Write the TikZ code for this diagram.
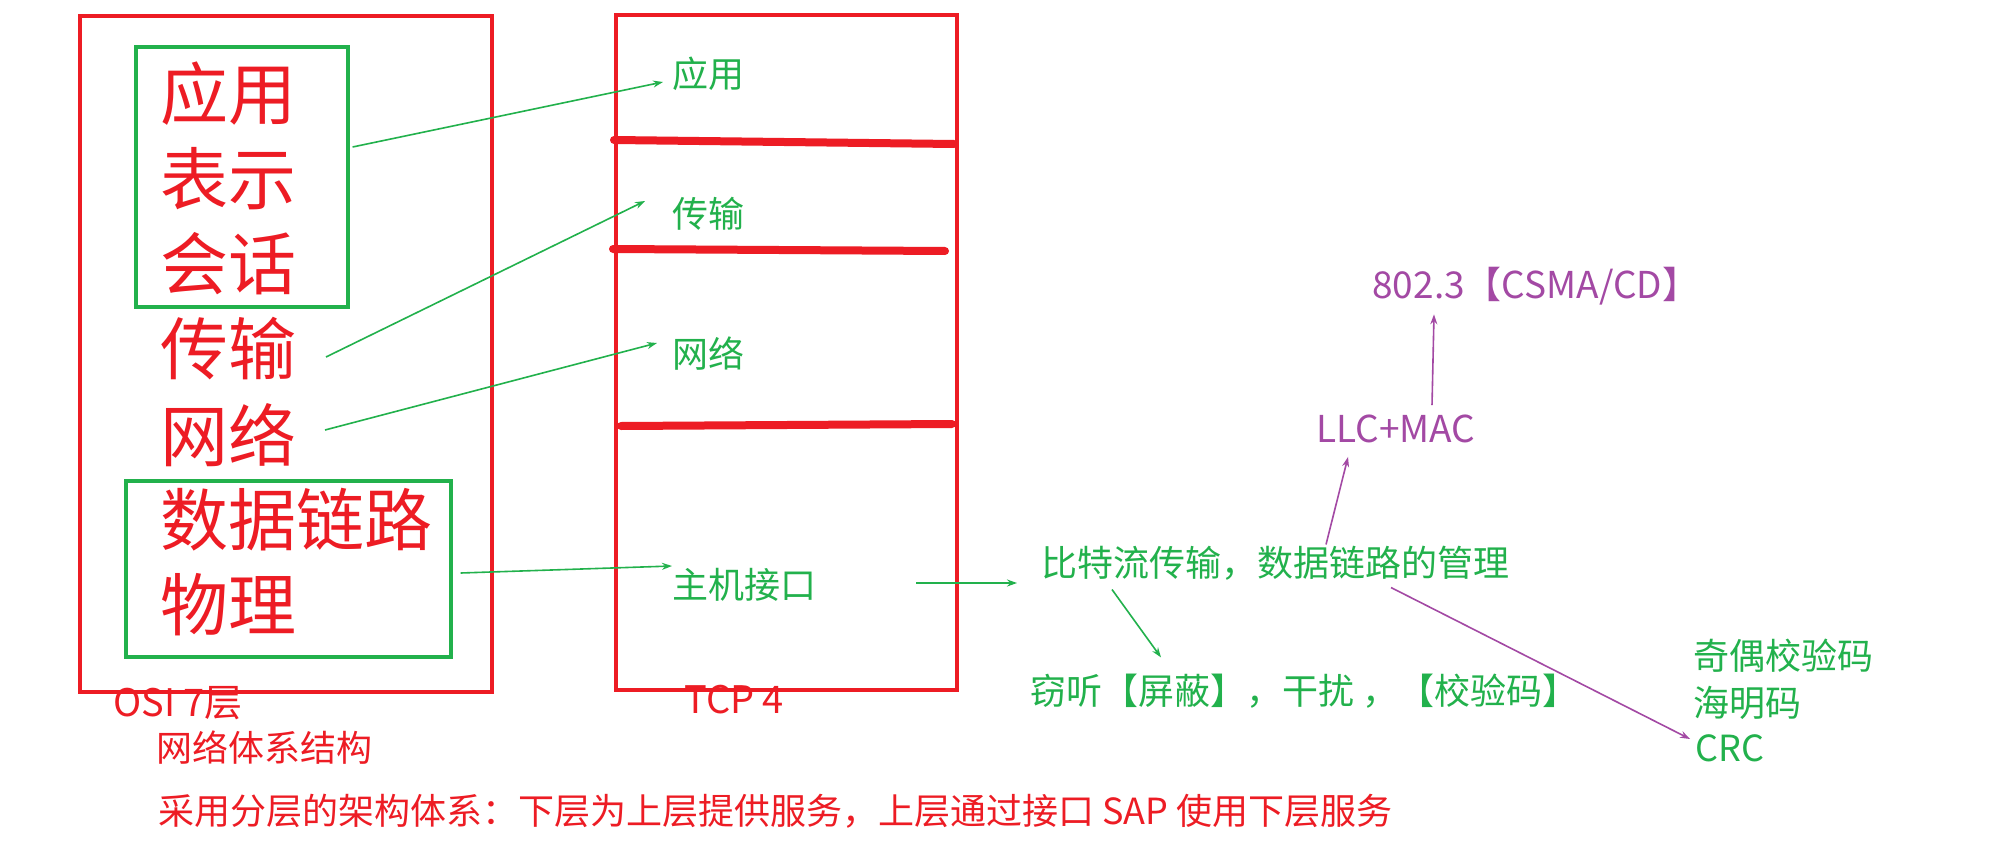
\documentclass[tikz,border=0pt]{standalone}
\usepackage{fontspec}
\newfontfamily\cjk{Noto Sans CJK SC}
\usetikzlibrary{arrows.meta,fit}
\definecolor{pred}{RGB}{237,28,36}
\definecolor{pgreen}{RGB}{34,177,76}
\definecolor{ppurple}{RGB}{163,73,164}
\begin{document}
\begin{tikzpicture}[x=0.5pt,y=-0.5pt,
  frame/.style={draw, line width=1.6pt, inner sep=0pt, anchor=center},
  big/.style={text=pred, font=\cjk\fontsize{34pt}{34pt}\selectfont, inner sep=0pt, anchor=west},
  gtxt/.style={text=pgreen, font=\cjk\fontsize{18pt}{18pt}\selectfont, inner sep=0pt, anchor=west},
  ptxt/.style={text=ppurple, font=\cjk\fontsize{18.5pt}{18.5pt}\selectfont, inner sep=0pt, anchor=west},
  rtxt/.style={text=pred, font=\cjk\fontsize{19pt}{19pt}\selectfont, inner sep=0pt, anchor=west},
  rsmall/.style={text=pred, font=\cjk\fontsize{18pt}{18pt}\selectfont, inner sep=0pt, anchor=west},
  bar/.style={draw=pred, line width=4pt, line cap=round},
  arrg/.style={draw=pgreen, line width=0.8pt, -{Stealth[length=5pt,width=3.5pt]}},
  arrp/.style={draw=ppurple, line width=0.8pt, -{Stealth[length=5pt,width=3.5pt]}}
]
\fill[white] (0,0) rectangle (2005,861);
\useasboundingbox (0,0) rectangle (2005,861);

% frames
\coordinate (o1) at (80,16);  \coordinate (o2) at (492,692);
\node[frame, draw=pred, fit=(o1)(o2)] (osi) {};
\coordinate (t1) at (616,15); \coordinate (t2) at (957,690);
\node[frame, draw=pred, fit=(t1)(t2)] (tcp) {};
\coordinate (a1) at (136,47); \coordinate (a2) at (348,307);
\node[frame, draw=pgreen, fit=(a1)(a2)] (g1) {};
\coordinate (b1) at (126,481); \coordinate (b2) at (451,657);
\node[frame, draw=pgreen, fit=(b1)(b2)] (g2) {};

% OSI layers
\node[big] (r1) at (160,94) {应用};
\node[big] (r2) at (160,179) {表示};
\node[big] (r3) at (160,264) {会话};
\node[big] (r4) at (160,349) {传输};
\node[big] (r5) at (160,435) {网络};
\node[big] (r6) at (160,520) {数据链路};
\node[big] (r7) at (160,605) {物理};

% TCP layers
\node[gtxt] (ta) at (672,73.5) {应用};
\node[gtxt] (tb) at (672,213.5) {传输};
\node[gtxt] (tc) at (672,353.5) {网络};
\node[gtxt] (td) at (672,585) {主机接口};
\draw[bar] (614,140) -- (954,144);
\draw[bar] (613,249) -- (945,251);
\draw[bar] (621,426) -- (952,424);

% right side
\node[gtxt] (bt) at (1041,563) {比特流传输，数据链路的管理};
\node[ptxt] (llc) at (1316,428.5) {LLC+MAC};
\node[ptxt] (ieee) at (1372,286) {802.3【CSMA/CD】};
\node[gtxt] (qt) at (1030,691) {窃听【屏蔽】，干扰 ，【校验码】};
\node[gtxt] (jo) at (1693,656) {奇偶校验码};
\node[gtxt] (hm) at (1693,702.5) {海明码};
\node[gtxt] (crc) at (1695,748.5) {CRC};

% bottom labels
\node[rtxt] (osil) at (113,703) {OSI 7层};
\node[rtxt] (tcpl) at (684,700) {TCP 4};
\node[rsmall] (arch) at (156,748) {网络体系结构};
\node[rsmall] (desc) at (158,811) {采用分层的架构体系：下层为上层提供服务，上层通过接口 SAP 使用下层服务};

% arrows
\draw[arrg] ([shift={(3,-30)}]g1.east) -- ([shift={(-9,8.5)}]ta.west);
\draw[arrg] ([shift={(166,8)}]r4.west) -- ([shift={(-27,-12.5)}]tb.west);
\draw[arrg] ([shift={(165,-5)}]r5.west) -- ([shift={(-15,-10.5)}]tc.west);
\draw[arrg] ([shift={(8,4)}]g2.east) -- ([shift={(0,-19)}]td.west);
\draw[arrg] ([shift={(244,-2)}]td.west) -- ([shift={(-24,20)}]bt.west);
\draw[arrp] ([shift={(285,-1)}]bt.north west) -- ([shift={(32,14)}]llc.south west);
\draw[arrp] ([shift={(116,-9)}]llc.north west) -- ([shift={(62,9)}]ieee.south west);
\draw[arrg] ([shift={(71,9)}]bt.south west) -- ([shift={(131,-16)}]qt.north west);
\draw[arrp] ([shift={(350,7)}]bt.south west) -- ([shift={(-5,-9.5)}]crc.west);
\end{tikzpicture}
\end{document}
